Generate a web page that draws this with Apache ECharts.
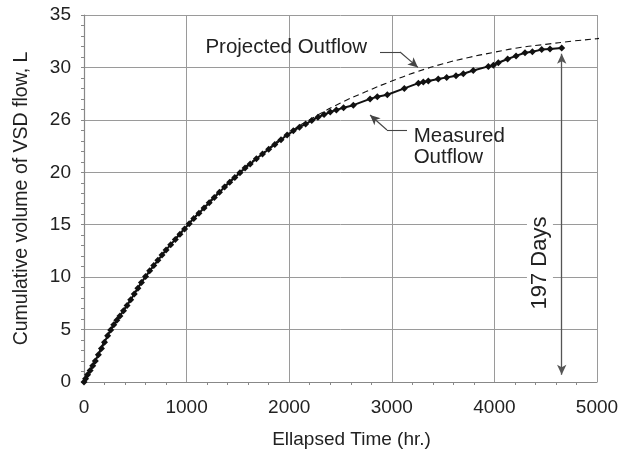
<!DOCTYPE html>
<html>
<head>
<meta charset="utf-8">
<script src="https://cdn.jsdelivr.net/npm/echarts@6/dist/echarts.min.js"></script>
<style>
  html, body { margin: 0; padding: 0; background: #fff; }
  #chart { width: 640px; height: 455px; }
</style>
</head>
<body>
<div id="chart"></div>
<script>
// Measured cumulative outflow (hours, litres)
const measuredHours = [0, 15, 35, 60, 85, 110, 140, 170, 200, 230, 260, 290, 320, 350, 385, 420, 455, 490, 525, 560,
  600, 640, 680, 720, 760, 800, 845, 890, 935, 980, 1025, 1070, 1120, 1170, 1220, 1270, 1320, 1370, 1420, 1470,
  1520, 1570, 1620, 1680, 1740, 1800, 1860, 1920, 1980, 2040, 2100, 2160, 2220, 2280, 2340, 2400, 2460, 2530,
  2625, 2788, 2859, 2956, 3122, 3259, 3307, 3356, 3453, 3535, 3626, 3697, 3794, 3941, 3990, 4038, 4129, 4211,
  4298, 4370, 4461, 4542, 4656];
const measuredLitres = [0, 0.3, 0.7, 1.1, 1.55, 2.0, 2.6, 3.2, 3.8, 4.4, 4.95, 5.45, 5.9, 6.3, 6.8, 7.3, 7.85, 8.4, 8.95, 9.5,
  10.05, 10.6, 11.1, 11.6, 12.1, 12.6, 13.1, 13.6, 14.1, 14.6, 15.1, 15.6, 16.1, 16.6, 17.1, 17.6, 18.1, 18.6, 19.05, 19.5,
  19.95, 20.4, 20.8, 21.3, 21.75, 22.2, 22.65, 23.1, 23.55, 23.95, 24.3, 24.6, 24.95, 25.25, 25.5, 25.75, 25.95, 26.15,
  26.4, 27.0, 27.2, 27.4, 28.0, 28.5, 28.6, 28.7, 28.9, 29.05, 29.2, 29.4, 29.7, 30.1, 30.2, 30.45, 30.8, 31.1,
  31.4, 31.5, 31.7, 31.75, 31.85];

// Projected outflow curve
const projectedHours = [0, 100, 250, 420, 600, 800, 1000, 1250, 1500, 1750, 2000, 2250, 2500, 2750, 3000, 3250,
  3500, 3750, 4000, 4250, 4500, 4750, 5000, 5080];
const projectedLitres = [0, 1.9, 4.9, 7.4, 10.0, 12.6, 14.9, 17.5, 19.9, 21.9, 23.8, 25.3, 26.6, 27.7, 28.7, 29.6,
  30.35, 30.95, 31.45, 31.9, 32.2, 32.5, 32.75, 32.87];

// Tick labels as printed on the axes
const xTickLabels = ['0', '1000', '2000', '3000', '4000', '5000'];
const yTickLabels = ['0', '5', '10', '15', '20', '26', '30', '35'];

// Duration of the measured record
const durationLabel = '197 Days';
const durationHours = 4656;
const durationTop = 31.3;
const durationBottom = 0.7;

const FONT = '"Liberation Sans", Arial, Helvetica, sans-serif';
const INK = '#222';
const GRID = '#9a9a9a';

const chart = echarts.init(document.getElementById('chart'), null, { renderer: 'canvas' });

const zip = (xs, ys) => xs.map((x, i) => [x, ys[i]]);

chart.setOption({
  animation: false,
  backgroundColor: '#fff',
  grid: { left: 84, right: 43, top: 15, bottom: 73, containLabel: false },
  xAxis: {
    type: 'value', min: 0, max: 5000, interval: 1000,
    name: 'Ellapsed Time (hr.)', nameLocation: 'middle', nameGap: 48,
    nameTextStyle: { fontFamily: FONT, fontSize: 19, color: INK, padding: [0, 0, 0, 22] },
    axisLine: { show: true, onZero: false, lineStyle: { color: '#888', width: 1.2 } },
    axisTick: { show: false },
    minorTick: { show: true, splitNumber: 5, length: 3, lineStyle: { color: '#888' } },
    axisLabel: {
      fontFamily: FONT, fontSize: 19, color: INK, margin: 16,
      formatter: (v) => xTickLabels[Math.round(v / 1000)]
    },
    splitLine: { show: true, lineStyle: { color: GRID, width: 1 } }
  },
  yAxis: {
    type: 'value', min: 0, max: 35, interval: 5,
    name: 'Cumulative volume of VSD flow, L', nameLocation: 'middle', nameGap: 52,
    nameTextStyle: { fontFamily: FONT, fontSize: 19.5, color: INK },
    axisLine: { show: true, onZero: false, lineStyle: { color: '#888', width: 1.2 } },
    axisTick: { show: true, inside: false, length: 3, lineStyle: { color: '#888' } },
    minorTick: { show: true, splitNumber: 5, length: 3, lineStyle: { color: '#888' } },
    axisLabel: {
      fontFamily: FONT, fontSize: 19, color: INK, margin: 13,
      formatter: (v) => yTickLabels[Math.round(v / 5)]
    },
    splitLine: { show: true, lineStyle: { color: GRID, width: 1 } }
  },
  series: [
    {
      name: 'Projected Outflow', type: 'line', smooth: true, clip: false,
      data: zip(projectedHours, projectedLitres),
      showSymbol: false, symbol: 'none',
      lineStyle: { color: '#111', width: 1.1, type: [6, 4] },
      z: 3
    },
    {
      name: 'Measured Outflow', type: 'line',
      data: zip(measuredHours, measuredLitres),
      symbol: 'diamond', symbolSize: 7,
      itemStyle: { color: '#111' },
      lineStyle: { color: '#111', width: 2 },
      z: 4,
      markLine: {
        silent: true, animation: false,
        label: { show: false },
        lineStyle: { color: '#444', width: 1.1, type: 'solid' },
        symbolSize: [7, 10],
        data: [
          // duration arrow
          [{ coord: [durationHours, durationTop], symbol: 'arrow', lineStyle: { color: '#555', width: 1.3 } },
           { coord: [durationHours, durationBottom], symbol: 'arrow' }],
          // leader for projected curve
          [{ coord: [2885, 31.47], symbol: 'none' }, { coord: [3080, 31.47], symbol: 'none' }],
          [{ coord: [3080, 31.47], symbol: 'none' }, { coord: [3255, 30.0], symbol: 'arrow' }],
          // leader for measured curve
          [{ coord: [3148, 24.03], symbol: 'none' }, { coord: [2953, 24.03], symbol: 'none' }],
          [{ coord: [2953, 24.03], symbol: 'none' }, { coord: [2788, 25.46], symbol: 'arrow' }]
        ]
      }
    }
  ]
});

// Text annotations placed in data coordinates
function px(t, v) { return chart.convertToPixel({ gridIndex: 0 }, [t, v]); }
const pProj = px(2760, 31.9);
const pMeas = px(3213, 22.4);
const pDays = px(4444, 11.35);
const textStyle = { fontFamily: FONT, fontSize: 20.5, fill: INK };

chart.setOption({
  graphic: [
    { type: 'text', x: pProj[0], y: pProj[1], z: 10,
      style: Object.assign({ text: 'Projected Outflow', align: 'right', verticalAlign: 'middle' }, textStyle) },
    { type: 'text', x: pMeas[0], y: pMeas[1], z: 10,
      style: Object.assign({ text: 'Measured\nOutflow', align: 'left', verticalAlign: 'middle', lineHeight: 21 }, textStyle) },
    { type: 'text', x: pDays[0], y: pDays[1], rotation: Math.PI / 2, z: 10,
      style: Object.assign({ text: durationLabel, align: 'center', verticalAlign: 'middle',
        backgroundColor: '#fff', padding: [2, 4] }, textStyle, { fontSize: 22 }) }
  ]
});
</script>
</body>
</html>
